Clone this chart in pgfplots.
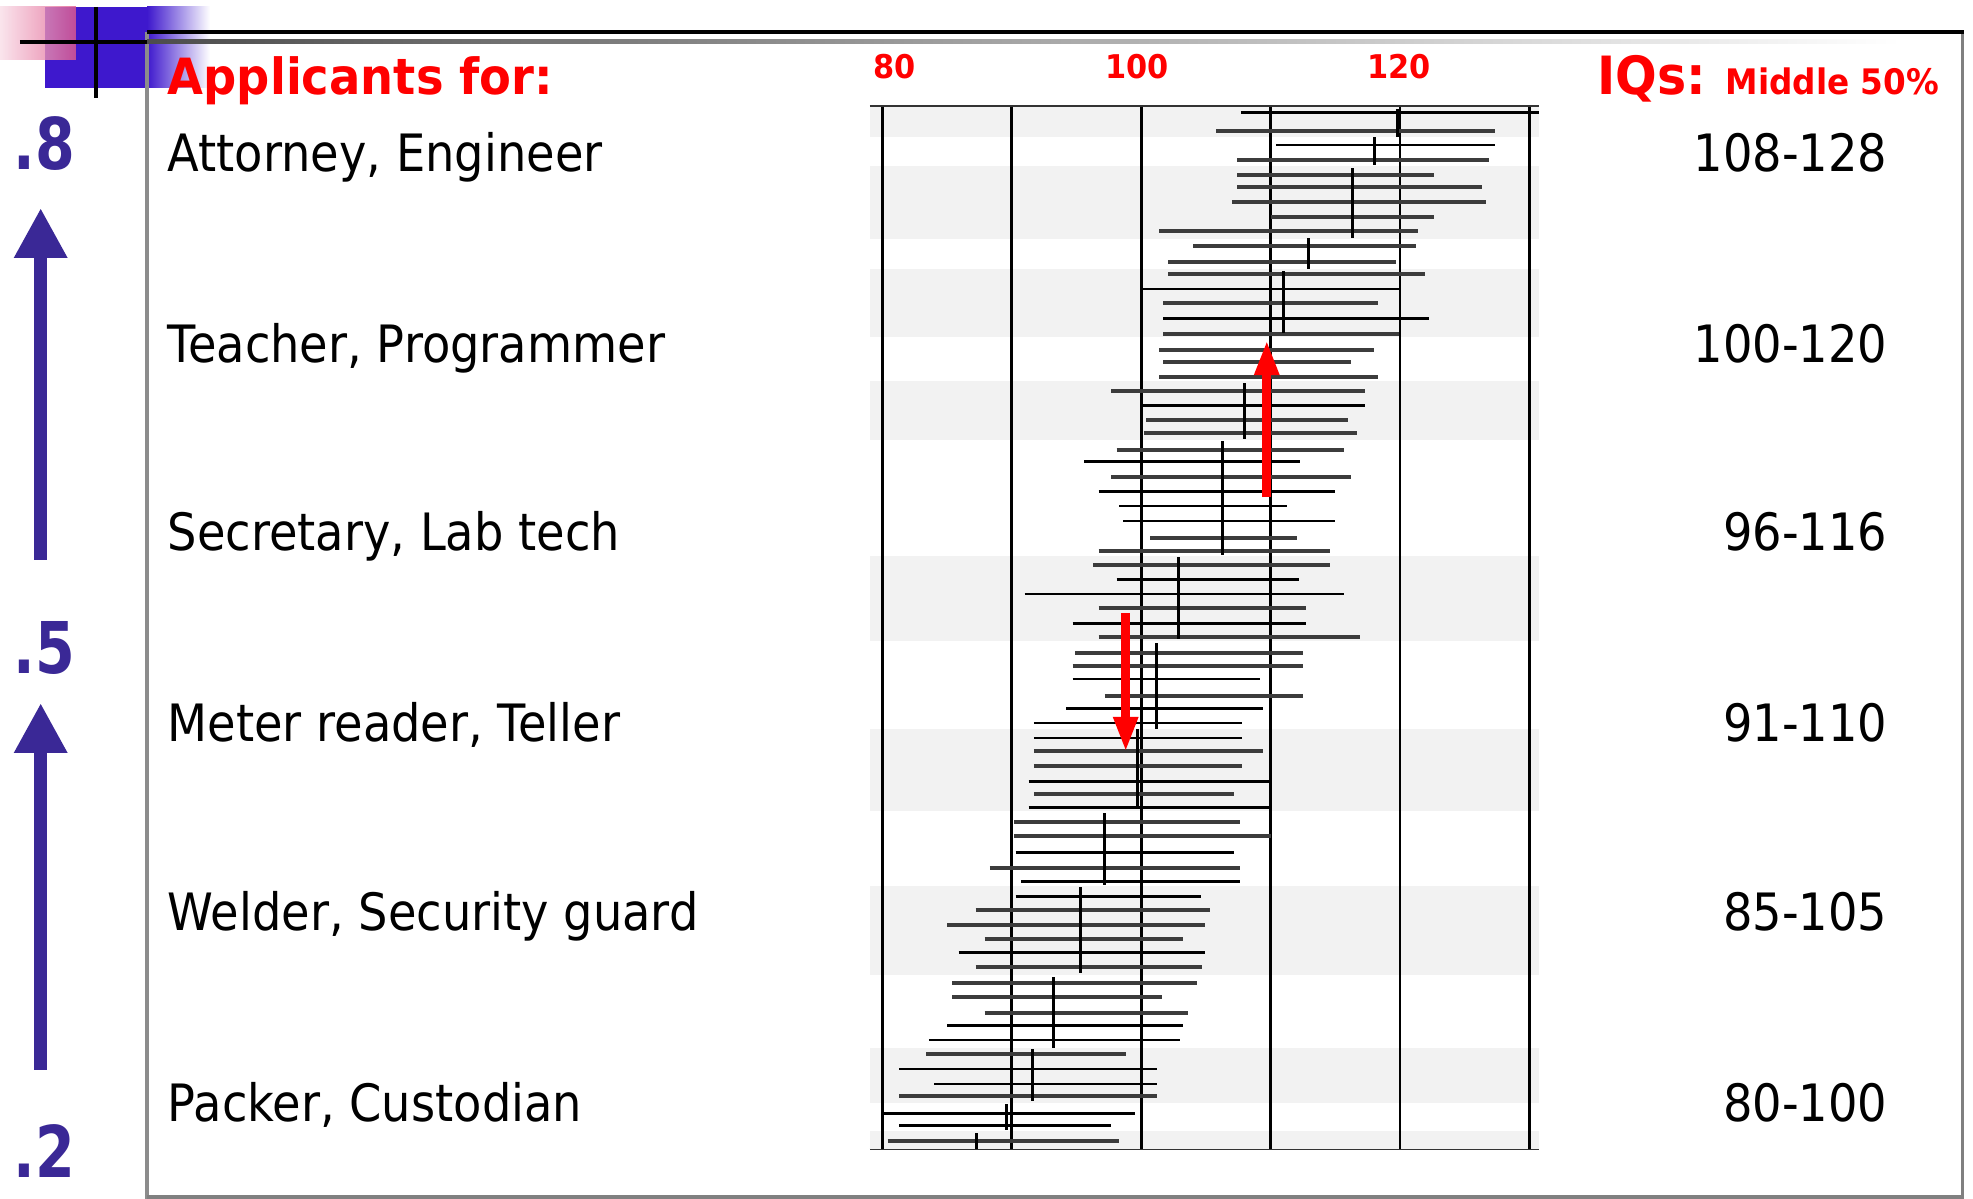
\documentclass[border=0pt]{standalone}
\usepackage{fontspec}
\setmainfont{DejaVu Sans}
\newfontfamily\rfont{DejaVu Sans}[FakeStretch=0.9]
\newfontfamily\bfont{DejaVu Sans}[FakeStretch=0.93]
\newfontfamily\nfont{DejaVu Sans}[FakeStretch=0.8]
\usepackage{pgfplots}
\pgfplotsset{compat=1.18}
\usetikzlibrary{arrows.meta}
\definecolor{band}{HTML}{F2F2F2}
\definecolor{indig}{RGB}{58,40,150}
\definecolor{sqblue}{RGB}{62,24,205}
\definecolor{sqpink}{RGB}{225,90,140}
\definecolor{iqgray}{HTML}{3C3C3C}
\begin{document}
\begin{tikzpicture}[x=1cm,y=1cm]
\path[use as bounding box] (0,0) rectangle (19.73,-11.99);
\fill[white] (0,0) rectangle (19.73,-11.99);
% corner decoration
\fill[sqblue] (0.45,-0.07) rectangle (1.47,-0.88);
\shade[left color=sqblue, right color=white] (1.47,-0.07) rectangle (2.10,-0.88);
\shade[left color=sqpink!20, right color=sqpink, opacity=0.8] (0,-0.07) rectangle (0.76,-0.60);
% slide frame
\draw[black!45, line width=0.035cm] (1.47,-0.32) -- (1.47,-11.99);
\draw[black!50, line width=0.035cm] (19.625,-0.32) -- (19.625,-11.97) -- (1.47,-11.97);
\shade[left color=black!70, right color=white] (1.47,-0.40) rectangle (19.0,-0.44);
\draw[black, line width=0.045cm] (1.47,-0.32) -- (19.64,-0.32);
\draw[black, line width=0.035cm] (0.20,-0.42) -- (1.47,-0.42);
\draw[black, line width=0.035cm] (0.96,-0.07) -- (0.96,-0.98);
% left scale
\draw[indig, line width=0.13cm, -{Triangle[width=0.5cm,length=0.5cm]}] (0.407,-5.60) -- (0.407,-2.08);
\draw[indig, line width=0.13cm, -{Triangle[width=0.5cm,length=0.5cm]}] (0.407,-10.70) -- (0.407,-7.03);
\node[anchor=base west, inner sep=0, text=indig, font=\nfont\bfseries\fontsize{20.3}{22}\selectfont] at (0.127,-1.70) {.8};
\node[anchor=base west, inner sep=0, text=indig, font=\nfont\bfseries\fontsize{20.3}{22}\selectfont] at (0.127,-6.74) {.5};
\node[anchor=base west, inner sep=0, text=indig, font=\nfont\bfseries\fontsize{20.3}{22}\selectfont] at (0.127,-11.78) {.2};
% headings
\node[anchor=base west, inner sep=0, text=red, font=\bfont\bfseries\fontsize{14.2}{16}\selectfont] at (1.67,-0.95) {Applicants for:};
\node[anchor=base west, inner sep=0, text=red, font=\bfont\bfseries\fontsize{15}{17}\selectfont] at (15.97,-0.95) {IQs:};
\node[anchor=base west, inner sep=0, text=red, font=\bfont\bfseries\fontsize{10}{12}\selectfont] at (17.25,-0.95) {Middle 50\%};
% occupation labels
\foreach \yy/\txt in {1.72/{Attorney, Engineer},3.63/{Teacher, Programmer},5.51/{Secretary, Lab tech},7.42/{Meter reader, Teller},9.31/{Welder, Security guard},11.22/{Packer, Custodian}}{
  \node[anchor=base west, inner sep=0, font=\rfont\fontsize{14.65}{17}\selectfont] at (1.67,-\yy) {\txt};
}
\foreach \yy/\txt in {1.72/108-128,3.63/100-120,5.51/96-116,7.42/91-110,9.31/85-105,11.22/80-100}{
  \node[anchor=base east, inner sep=0, font=\rfont\fontsize{14.65}{17}\selectfont] at (18.88,-\yy) {\txt};
}
\begin{axis}[
  at={(8.698cm,-11.49cm)}, anchor=south west,
  width=6.688cm, height=10.423cm, scale only axis,
  xmin=79.03, xmax=130.7, ymin=106.7, ymax=1149, y dir=reverse,
  axis x line=box, axis y line=none,
  x axis line style={black!80, line width=0.75pt},
  xtick=\empty, ytick=\empty,
  clip=false,
]
% background bands
\addplot[fill=band, draw=none] coordinates {(79.03,106.7) (130.7,106.7) (130.7,137) (79.03,137)} --cycle;
\addplot[fill=band, draw=none] coordinates {(79.03,166) (130.7,166) (130.7,239) (79.03,239)} --cycle;
\addplot[fill=band, draw=none] coordinates {(79.03,269) (130.7,269) (130.7,337) (79.03,337)} --cycle;
\addplot[fill=band, draw=none] coordinates {(79.03,381) (130.7,381) (130.7,440) (79.03,440)} --cycle;
\addplot[fill=band, draw=none] coordinates {(79.03,556) (130.7,556) (130.7,641) (79.03,641)} --cycle;
\addplot[fill=band, draw=none] coordinates {(79.03,729) (130.7,729) (130.7,811) (79.03,811)} --cycle;
\addplot[fill=band, draw=none] coordinates {(79.03,886) (130.7,886) (130.7,975) (79.03,975)} --cycle;
\addplot[fill=band, draw=none] coordinates {(79.03,1048) (130.7,1048) (130.7,1103) (79.03,1103)} --cycle;
\addplot[fill=band, draw=none] coordinates {(79.03,1131) (130.7,1131) (130.7,1149) (79.03,1149)} --cycle;
% vertical grid lines
\addplot[black, line width=0.75pt, unbounded coords=jump] coordinates {
(80,106.7) (80,1149) (100,nan)
(90,106.7) (90,1149) (100,nan)
(100,106.7) (100,1149) (100,nan)
(110,106.7) (110,1149) (100,nan)
(120,106.7) (120,1149) (100,nan)
(130,106.7) (130,1149)};
% IQR lines (gray)
\addplot[iqgray, line width=1.05pt, unbounded coords=jump] coordinates {
(105.8,131.3) (127.3,131.3) (100,nan)
(107.4,159.7) (126.9,159.7) (100,nan)
(107.4,174.7) (122.6,174.7) (100,nan)
(107.4,186.7) (126.3,186.7) (100,nan)
(107.0,202.3) (126.6,202.3) (100,nan)
(110.0,216.7) (122.6,216.7) (100,nan)
(101.4,231) (121.4,231) (100,nan)
(104.0,245.7) (121.2,245.7) (100,nan)
(102.1,262.3) (119.7,262.3) (100,nan)
(102.1,274.3) (121.9,274.3) (100,nan)
(101.7,302.7) (118.3,302.7) (100,nan)
(101.7,333.7) (119.9,333.7) (100,nan)
(101.4,350) (118.0,350) (100,nan)
(101.7,362.3) (116.2,362.3) (100,nan)
(101.4,376.7) (118.3,376.7) (100,nan)
(97.7,391) (117.3,391) (100,nan)
(100.4,419.7) (116.0,419.7) (100,nan)
(100.2,433.3) (116.7,433.3) (100,nan)
(98.1,450) (115.7,450) (100,nan)
(97.7,476.7) (116.2,476.7) (100,nan)
(100.7,538.3) (112.0,538.3) (100,nan)
(96.7,551) (114.6,551) (100,nan)
(96.3,565) (114.6,565) (100,nan)
(96.7,608) (112.7,608) (100,nan)
(96.7,636.7) (116.9,636.7) (100,nan)
(94.9,653.3) (112.5,653.3) (100,nan)
(94.7,665.7) (112.5,665.7) (100,nan)
(97.2,696) (112.5,696) (100,nan)
(91.7,751) (109.4,751) (100,nan)
(91.7,766) (107.8,766) (100,nan)
(91.7,794) (107.2,794) (100,nan)
(90.2,822.3) (107.6,822.3) (100,nan)
(90.2,836) (110.0,836) (100,nan)
(88.3,867.7) (107.6,867.7) (100,nan)
(87.2,910) (105.3,910) (100,nan)
(85.0,924.7) (104.9,924.7) (100,nan)
(87.9,938.7) (103.2,938.7) (100,nan)
(87.2,966.7) (104.7,966.7) (100,nan)
(85.4,982.7) (104.3,982.7) (100,nan)
(85.4,996.7) (101.6,996.7) (100,nan)
(87.9,1013) (103.6,1013) (100,nan)
(83.4,1054) (98.8,1054) (100,nan)
(81.3,1096) (101.2,1096) (100,nan)
(80.4,1141.3) (98.3,1141.3)};
% IQR lines (black)
\addplot[black, line width=0.75pt, unbounded coords=jump] coordinates {
(107.7,112.7) (130.7,112.7) (100,nan)
(110.4,145) (127.3,145) (100,nan)
(100,289) (120,289) (100,nan)
(101.7,318.3) (122.2,318.3) (100,nan)
(100,405.7) (117.3,405.7) (100,nan)
(95.6,461.7) (112.3,461.7) (100,nan)
(96.7,491.7) (115.0,491.7) (100,nan)
(98.3,506) (111.3,506) (100,nan)
(98.6,521) (115.0,521) (100,nan)
(98.1,579.3) (112.2,579.3) (100,nan)
(91.0,594) (115.7,594) (100,nan)
(94.7,623.3) (112.7,623.3) (100,nan)
(94.7,679) (109.2,679) (100,nan)
(94.2,708.7) (109.4,708.7) (100,nan)
(91.7,723) (107.8,723) (100,nan)
(91.7,738) (107.8,738) (100,nan)
(91.3,781.7) (110.0,781.7) (100,nan)
(91.3,807.7) (110.0,807.7) (100,nan)
(90.3,852.3) (107.2,852.3) (100,nan)
(90.7,881.3) (107.6,881.3) (100,nan)
(90.3,896.7) (104.6,896.7) (100,nan)
(85.9,952.3) (104.9,952.3) (100,nan)
(85.0,1025.7) (103.2,1025.7) (100,nan)
(83.6,1040) (103.0,1040) (100,nan)
(81.3,1069) (101.2,1069) (100,nan)
(84.0,1084) (101.2,1084) (100,nan)
(80.0,1113.3) (99.5,1113.3) (100,nan)
(81.3,1125.3) (97.7,1125.3)};
% group medians
\addplot[black, line width=0.85pt, unbounded coords=jump] coordinates {
(119.8,109) (119.8,137) (100,nan)
(118.0,137) (118.0,165) (100,nan)
(116.3,168) (116.3,238) (100,nan)
(112.9,238) (112.9,269) (100,nan)
(111.0,271) (111.0,333) (100,nan)
(108.0,383) (108.0,439) (100,nan)
(106.3,441) (106.3,555) (100,nan)
(102.9,557) (102.9,639) (100,nan)
(101.2,643) (101.2,729) (100,nan)
(99.7,729) (99.7,808) (100,nan)
(97.2,813) (97.2,885) (100,nan)
(95.3,887) (95.3,973) (100,nan)
(93.2,977) (93.2,1048) (100,nan)
(91.6,1049) (91.6,1101) (100,nan)
(89.6,1104) (89.6,1130) (100,nan)
(87.3,1133) (87.3,1149)};
% red arrows
\addplot[red, line width=2.6pt, -{Triangle[width=6.5pt,length=10pt]}] coordinates {(109.7,497) (109.7,340)};
\addplot[red, line width=2.6pt, -{Triangle[width=6.5pt,length=10pt]}] coordinates {(98.8,613) (98.8,752)};
% tick labels
\node[text=red, font=\bfont\bfseries\fontsize{9.3}{11}\selectfont] at (80.95,66.7) {80};
\node[text=red, font=\bfont\bfseries\fontsize{9.3}{11}\selectfont] at (99.7,66.7) {100};
\node[text=red, font=\bfont\bfseries\fontsize{9.3}{11}\selectfont] at (119.9,66.7) {120};
\end{axis}
\end{tikzpicture}
\end{document}
